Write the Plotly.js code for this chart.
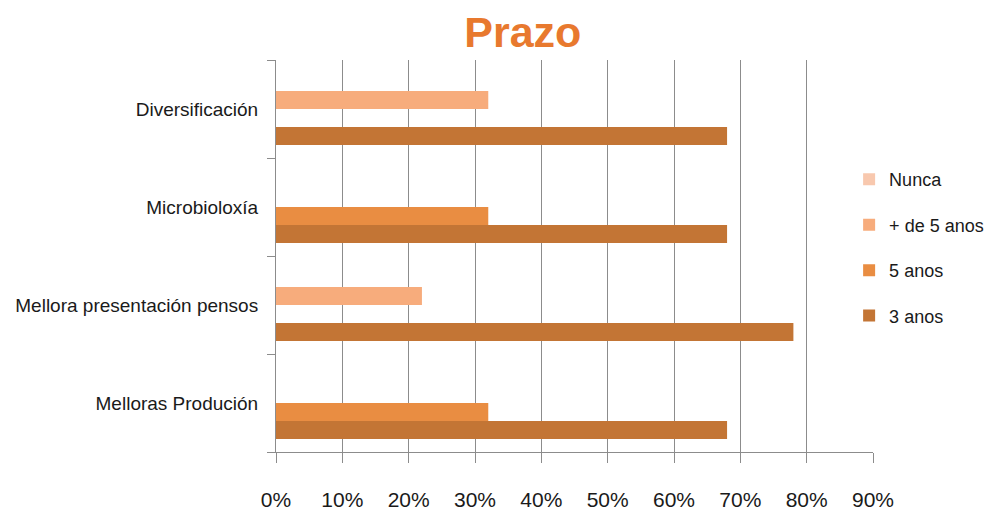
<!DOCTYPE html>
<html>
<head>
<meta charset="utf-8">
<script src="https://cdn.plot.ly/plotly-3.0.1.min.js"></script>
<style>html,body{margin:0;padding:0;background:#fff;}#chart{width:992px;height:515px;}</style>
</head>
<body>
<div id="chart"></div>
<script>
// Categories, bottom to top as drawn
var categories = ["Melloras Produción", "Mellora presentación pensos", "Microbioloxía", "Diversificación"];
var seriesNames = ["3 anos", "5 anos", "+ de 5 anos", "Nunca"];
var tres_anos = [0.68, 0.78, 0.68, 0.68];
var cinco_anos = [0.32, 0, 0.32, 0];
var mais_cinco_anos = [0, 0.22, 0, 0.32];
var nunca = [0, 0, 0, 0];
var xTickVals = [0, 0.1, 0.2, 0.3, 0.4, 0.5, 0.6, 0.7, 0.8, 0.9];
var xTickText = ["0%", "10%", "20%", "30%", "40%", "50%", "60%", "70%", "80%", "90%"];

var colors = ["#C37535", "#E98D42", "#F7AC7C", "#F8C8AE"];
var seriesValues = [tres_anos, cinco_anos, mais_cinco_anos, nunca];
var legendRanks = [4, 3, 2, 1];

var narrow = "Liberation Sans Narrow, Arial Narrow, Liberation Sans, Arial, sans-serif";

var data = seriesValues.map(function (vals, i) {
  return {
    type: "bar",
    orientation: "h",
    name: seriesNames[i],
    y: categories,
    x: vals,
    marker: { color: colors[i], line: { width: 0 } },
    legendgroup: "g" + i,
    legendrank: legendRanks[i],
    hoverinfo: "x+name"
  };
});

var layout = {
  width: 992,
  height: 515,
  paper_bgcolor: "#ffffff",
  plot_bgcolor: "#ffffff",
  margin: { l: 276, r: 119, t: 60, b: 63, autoexpand: false },
  barmode: "group",
  bargap: 0.265,
  bargroupgap: 0,
  title: {
    text: "<b>Prazo</b>",
    font: { family: "Liberation Sans, Arial, sans-serif", size: 43, color: "#E8792E" },
    x: 0.527,
    xref: "container",
    xanchor: "center",
    y: 0.968,
    yref: "container",
    yanchor: "top"
  },
  xaxis: {
    range: [0, 0.9],
    tickvals: xTickVals,
    ticktext: xTickText,
    showgrid: true,
    gridcolor: "#8c8c8c",
    gridwidth: 1,
    zeroline: false,
    showline: true,
    linecolor: "#8c8c8c",
    linewidth: 1,
    ticks: "outside",
    ticklen: 10,
    tickcolor: "#8c8c8c",
    ticklabelstandoff: 19,
    tickfont: { family: narrow, size: 21, color: "#1a1a1a" },
    fixedrange: true
  },
  yaxis: {
    type: "category",
    categoryorder: "array",
    categoryarray: categories,
    showgrid: false,
    zeroline: false,
    showline: true,
    linecolor: "#8c8c8c",
    linewidth: 1,
    ticks: "outside",
    tickson: "boundaries",
    ticklen: 8,
    tickcolor: "#8c8c8c",
    ticklabelstandoff: 13,
    tickfont: { family: narrow, size: 19, color: "#1a1a1a" },
    fixedrange: true
  },
  legend: {
    x: 0.96,
    xanchor: "left",
    y: 0.742,
    yanchor: "top",
    traceorder: "grouped",
    tracegroupgap: 19,
    font: { family: narrow, size: 18, color: "#1a1a1a" },
    bgcolor: "rgba(0,0,0,0)",
    itemwidth: 30
  },
  showlegend: true
};

Plotly.newPlot("chart", data, layout, { displayModeBar: false, staticPlot: true });
</script>
</body>
</html>
